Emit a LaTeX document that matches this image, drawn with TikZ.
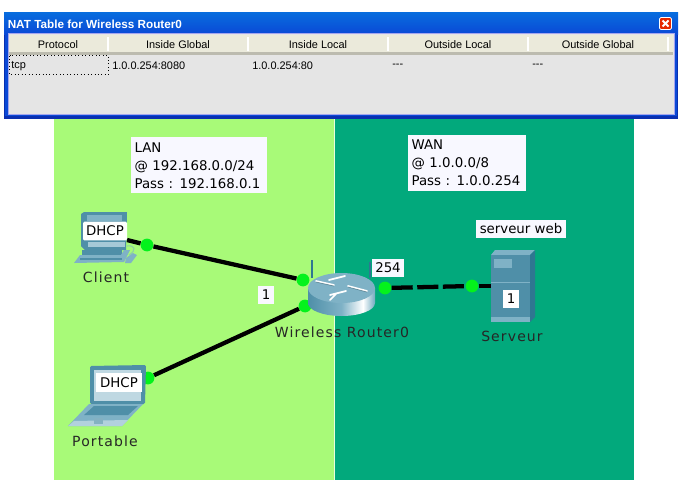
\documentclass[tikz,border=0pt]{standalone}
\usepackage{fontspec}
\setmainfont{DejaVu Sans}
\newfontfamily\uifont{Liberation Sans}
\newfontfamily\spacedfont[LetterSpace=8]{DejaVu Sans}
\definecolor{lan}{HTML}{A8FA78}
\definecolor{wan}{HTML}{02A97C}
\definecolor{dotg}{HTML}{04F21C}
\definecolor{devA}{HTML}{4F8FA8}
\definecolor{devB}{HTML}{7FB2C6}
\definecolor{devC}{HTML}{2F7791}
\definecolor{labelbg}{HTML}{F8F8FF}
\definecolor{frameblue}{HTML}{0A49D6}
\definecolor{framedark}{HTML}{0A2FB0}
\definecolor{headbg}{HTML}{EBEADB}
\definecolor{panelbg}{HTML}{E5E5E5}
\pgfdeclarehorizontalshading{routerside}{100bp}{color(0bp)=(devC!70!white); color(25bp)=(devA); color(50bp)=(devB); color(66bp)=(white); color(74bp)=(devB); color(100bp)=(devC)}
\tikzset{
  px/.style={x=0.75pt,y=-0.75pt},
  infobox/.style={fill=labelbg,draw=none,anchor=north west,align=left,font=\fontsize{10pt}{13.5pt}\selectfont,inner sep=0pt,text=black},
  tag/.style={fill=labelbg,draw=none,font=\fontsize{10pt}{11pt}\selectfont,inner sep=0pt,text=black,align=center},
  devname/.style={font=\spacedfont\fontsize{10.5pt}{11pt}\selectfont,text=black!85,inner sep=0pt},
  dotn/.style={circle,fill=dotg,draw=none,minimum size=9.6pt,inner sep=0pt},
  linkl/.style={line width=3.2pt,black},
  uihead/.style={font=\uifont\fontsize{8.2pt}{10pt}\selectfont,inner sep=0pt,text=black},
  uicell/.style={font=\uifont\fontsize{8.2pt}{10pt}\selectfont,inner sep=0pt,anchor=west,text=black},
  sep/.style={draw=white,line width=0.9pt},
}
\begin{document}
\begin{tikzpicture}[px]
\useasboundingbox (0,0) rectangle (683,496);
\fill[white] (0,0) rectangle (683,496);
% zones
\fill[lan] (54,119) rectangle (334,480);
\fill[wan] (334,119) rectangle (634,480);
\draw[white!75!lan,line width=0.6pt] (334,119) -- (334,480);
% window
\fill[framedark] (4,12) rectangle (678,119);
\shade[top color=frameblue!80!cyan,bottom color=frameblue] (4,12) rectangle (678,34);
\fill[frameblue] (5,34) rectangle (677,116);
\fill[panelbg,draw=black!20!blue!35!white,line width=0.7pt] (8,33.5) rectangle (674,114.5);
\fill[headbg] (9,35) rectangle (673,52);
\fill[headbg!80!black] (9,52) rectangle (673,54.5);
\foreach \sx in {108,248,388,528,668} \draw[sep] (\sx,37) -- (\sx,51);
\node[font=\uifont\bfseries\fontsize{8.8pt}{10pt}\selectfont,text=white,anchor=west,inner sep=0pt] (title) at (7.5,24) {NAT Table for Wireless Router0};
\fill[red!65!orange!90!black,draw=white,line width=0.6pt,rounded corners=1pt] (659.5,17.5) rectangle (671.5,29.5);
\draw[white,line width=1.4pt] (662.5,20.5) -- (668.5,26.5) (668.5,20.5) -- (662.5,26.5);
\node[uihead] (h1) at (58,45) {Protocol};
\node[uihead] (h2) at (178,45) {Inside Global};
\node[uihead] (h3) at (318,45) {Inside Local};
\node[uihead] (h4) at (458,45) {Outside Local};
\node[uihead] (h5) at (598,45) {Outside Global};
\draw[black,dotted,line width=0.6pt] (9.5,55.5) rectangle (108.5,74.5);
\node[uicell] (c1) at (11,66) {tcp};
\node[uicell] (c2) at (112,66) {1.0.0.254:8080};
\node[uicell] (c3) at (252,66) {1.0.0.254:80};
\node[uicell] (c4) at (392,66) {---};
\node[uicell] (c5) at (532,66) {---};
% info labels
\node[infobox,minimum width=102pt,minimum height=42pt,text width=97pt,inner xsep=2.5pt] (lanbox) at (131,137) {LAN\\@ 192.168.0.0/24\\Pass : 192.168.0.1};
\node[infobox,minimum width=88.5pt,minimum height=41.5pt,text width=83.5pt,inner xsep=2.5pt] (wanbox) at (408,135) {WAN\\@ 1.0.0.0/8\\Pass : 1.0.0.254};
% link dots and device anchors
\coordinate (pc) at (127,240);
\coordinate (lap) at (140,382);
\coordinate (srv) at (491,286);
\node[dotn] (d1) at (147,245) {};
\node[dotn] (d2) at (303,280) {};
\node[dotn] (d3) at (305,306) {};
\node[dotn] (d4) at (148,378) {};
\node[dotn] (d5) at (385,288) {};
\node[dotn] (d6) at (472,286) {};
\draw[linkl] (pc) -- (d1);
\draw[linkl] (d1) -- (d2);
\draw[linkl] (d4) -- (d3);
\draw[linkl,dash pattern=on 15.8pt off 3.4pt] (d5) -- (d6);
\draw[linkl] (d6) -- (srv);
% client PC
\fill[devA] (81,214) -- (84,212) -- (127,212) -- (126,250) -- (85,250) -- (81,246) -- cycle;
\fill[devB] (87,215) rectangle (122,221);
\fill[devB!70!white] (88,242) rectangle (125,247);
\fill[devA] (82,250) rectangle (122,255);
\fill[devB] (87,255) -- (121,255) -- (124,250) -- (130,250) -- (124,262) -- (74,263) -- (80,255) -- cycle;
\fill[devA] (80,258) rectangle (122,260);
\draw[devB!60!lan,line width=0.8pt] (127,246) .. controls (135,245) and (137,250) .. (129,255);
\fill[devB] (126,258) -- (133,253) -- (137,255) -- (131,263) -- (125,263) -- cycle;
\node[tag,rounded corners=1pt,minimum width=33pt,minimum height=14pt,fill=white] (dhcp1) at (105,231) {DHCP};
\node[devname] (client) at (106,277) {Client};
% laptop
\fill[devA,rounded corners=1pt] (90,366) -- (146,365) -- (145,404) -- (90,404) -- cycle;
\fill[devB!50!white] (94,370) rectangle (141,401);
\fill[devC] (95,405) -- (141,405) -- (136,410) -- (92,410) -- cycle;
\fill[devB] (89,404) -- (143,404) -- (122,426) -- (68,426) -- cycle;
\fill[devA] (94,406) -- (138,406) -- (128,415) -- (84,415) -- cycle;
\fill[devB!60!white] (68,426) -- (74,421) -- (128,420) -- (122,426) -- cycle;
\fill[devA!70!white] (94,418) rectangle (103,424);
\node[tag,minimum width=34pt,minimum height=14pt,fill=white] (dhcp2) at (119,382.5) {DHCP};
\node[devname] (portable) at (105,441) {Portable};
% server
\fill[devB] (491,255) -- (495,250) -- (535,250) -- (530,255) -- cycle;
\fill[devC] (530,255) -- (535,250) -- (535,317) -- (530,322) -- cycle;
\fill[devA] (491,255) rectangle (530,322);
\fill[devB] (494,259) rectangle (512,268);
\draw[devB,line width=0.6pt] (491,282) -- (530,282);
\fill[devB] (491,317) rectangle (530,322);
\node[tag,fill=white,minimum width=12pt,minimum height=13.5pt] (one2) at (511,299) {1};
\node[devname] (serveur) at (512,336) {Serveur};
\node[tag,minimum width=68pt,minimum height=13.5pt] (web) at (521,229) {serveur web};
% router
\draw[devC,line width=2pt] (312,260) -- (312,278);
\draw[devC,line width=1.5pt] (370,262) -- (370,278);
\shade[shading=routerside] (308,288) -- (308,303) arc[start angle=180,end angle=0,x radius=33.5,y radius=13] -- (375,288) -- cycle;
\fill[devB] (341.5,288) ellipse[x radius=33.5,y radius=15];
\draw[white,line width=1.3pt,line cap=round] (316,281) -- (334,285) (330,295) -- (346,291) (329,280) -- (345,276) (348,286) -- (367,291) (330,300) -- (336,294);
\draw[devC!60!black,line width=0.5pt,opacity=.5] (316,282) -- (334,286) (348,287) -- (367,292);
\node[devname] (router) at (342,332) {Wireless Router0};
\node[tag,minimum width=12pt,minimum height=13.5pt] (one1) at (266,295) {1};
\node[tag,minimum width=24pt,minimum height=13.5pt] (t254) at (388,268) {254};
\end{tikzpicture}
\end{document}
